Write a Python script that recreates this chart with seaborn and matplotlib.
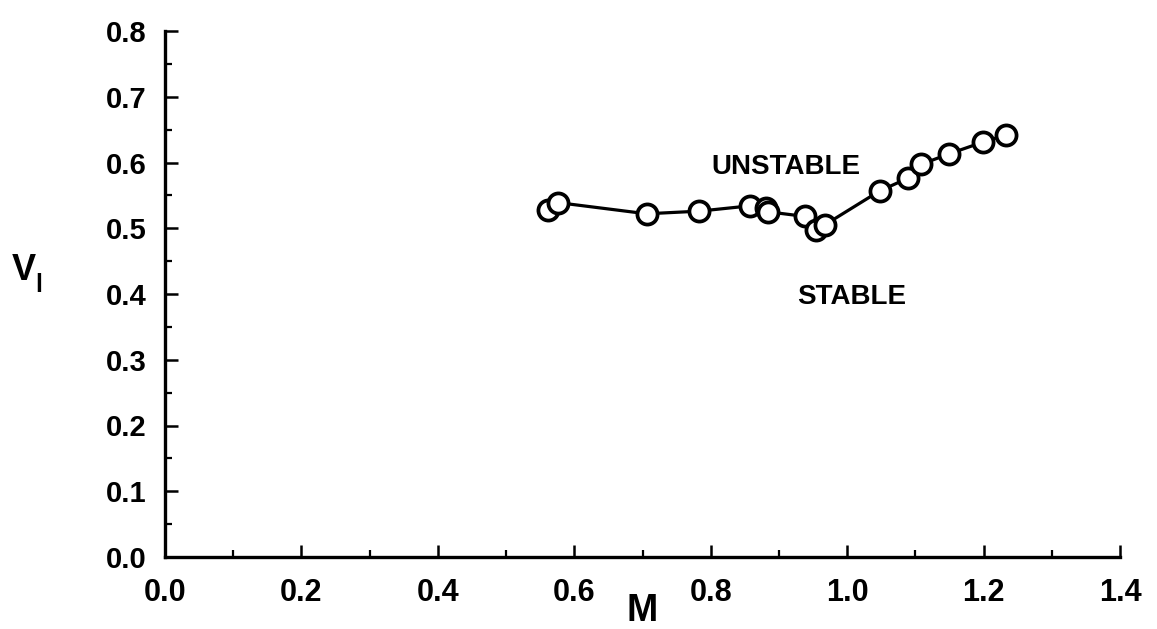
import pandas as pd
import matplotlib.pyplot as plt
import seaborn as sns
from matplotlib.ticker import MultipleLocator

# Stability boundary data
mach = [0.561, 0.576, 0.706, 0.783, 0.857, 0.881, 0.884, 0.938, 0.955, 0.967,
        1.048, 1.089, 1.108, 1.149, 1.199, 1.233]
v_l = [0.528, 0.539, 0.522, 0.526, 0.534, 0.531, 0.525, 0.518, 0.498, 0.505,
       0.557, 0.576, 0.597, 0.613, 0.631, 0.642]
x_ticks = [0.0, 0.2, 0.4, 0.6, 0.8, 1.0, 1.2, 1.4]
y_ticks = [0.0, 0.1, 0.2, 0.3, 0.4, 0.5, 0.6, 0.7, 0.8]

df = pd.DataFrame({'M': mach, 'V': v_l})

sns.set_style('ticks')
plt.rcParams['font.family'] = ['Liberation Sans', 'DejaVu Sans']
plt.rcParams['font.weight'] = 'bold'
plt.rcParams['text.color'] = 'black'
plt.rcParams['xtick.color'] = 'black'
plt.rcParams['ytick.color'] = 'black'

fig = plt.figure(figsize=(11.57, 6.29), dpi=100)
ax = fig.add_axes([165 / 1157, 72 / 629, 955 / 1157, 526 / 629])

sns.lineplot(data=df, x='M', y='V', sort=False, estimator=None, ax=ax,
             color='black', linewidth=2.3, marker='o', markersize=14.5,
             markerfacecolor='white', markeredgecolor='black', markeredgewidth=2.7)

ax.set_xlim(0, 1.4)
ax.set_ylim(0, 0.8)
ax.set_xticks(x_ticks)
ax.set_yticks(y_ticks)
ax.set_xticklabels([f'{t:.1f}' for t in x_ticks], fontsize=22, fontweight='bold')
ax.set_yticklabels([f'{t:.1f}' for t in y_ticks], fontsize=21, fontweight='bold')
ax.xaxis.set_minor_locator(MultipleLocator(0.1))
ax.yaxis.set_minor_locator(MultipleLocator(0.05))
ax.tick_params(axis='both', which='major', direction='in', length=9, width=1.8)
ax.tick_params(axis='both', which='minor', direction='in', length=5, width=1.6)
ax.tick_params(axis='x', which='major', pad=15)
ax.tick_params(axis='y', which='major', pad=13)

for side in ['top', 'right']:
    ax.spines[side].set_visible(False)
for side in ['left', 'bottom']:
    ax.spines[side].set_linewidth(2.4)
    ax.spines[side].set_color('black')

ax.set_xlabel('')
ax.set_ylabel('')
fig.text(642 / 1157, 1 - 611 / 629, 'M', fontsize=27, fontweight='bold', ha='center', va='center')
fig.text(24 / 1157, 1 - 270 / 629, 'V', fontsize=26, fontweight='bold', ha='center', va='center')
fig.text(39 / 1157, 1 - 285 / 629, 'l', fontsize=18, fontweight='bold', ha='center', va='center')

ax.text(0.91, 0.593, 'UNSTABLE', fontsize=20, fontweight='bold', ha='center', va='center')
ax.text(1.006, 0.395, 'STABLE', fontsize=20, fontweight='bold', ha='center', va='center')

fig.savefig('out.png', dpi=100, facecolor='white')
